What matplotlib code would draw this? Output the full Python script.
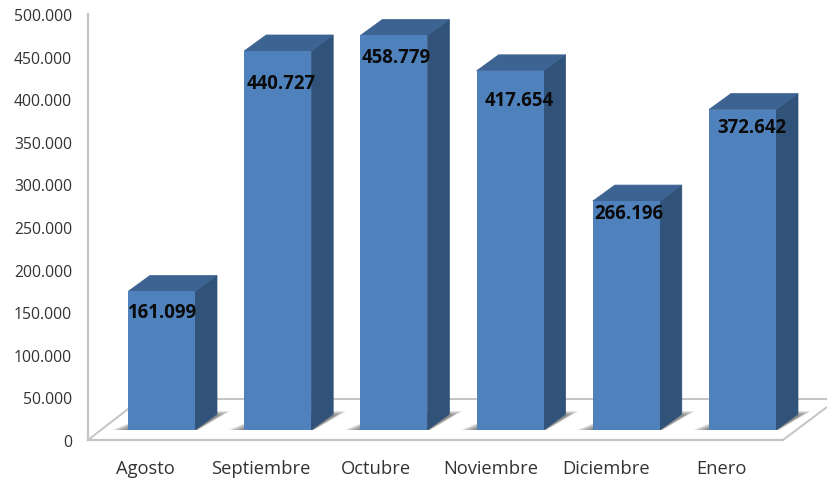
import matplotlib
matplotlib.use('Agg')
import matplotlib.pyplot as plt
from matplotlib.patches import Polygon

months = ['Agosto', 'Septiembre', 'Octubre', 'Noviembre', 'Diciembre', 'Enero']
values = [161099, 440727, 458779, 417654, 266196, 372642]
y_ticks = [0, 50000, 100000, 150000, 200000, 250000, 300000, 350000, 400000, 450000, 500000]
y_tick_labels = ['0', '50.000', '100.000', '150.000', '200.000', '250.000',
                 '300.000', '350.000', '400.000', '450.000', '500.000']

# label nudges in pixels, the original labels are not centred on the bars
label_dx = [1, 3, 2.5, 9, 2.5, 9]
label_drop = [21, 32, 22, 29, 12, 17]

W, H = 827, 481
FRONT = '#4f81bd'
TOP = '#3c6391'
SIDE = '#315279'
GRID = '#c4c4c4'
TEXT = '#333333'

plt.rcParams['font.family'] = 'Open Sans'

fig = plt.figure(figsize=(W / 100, H / 100), dpi=100)

# base axes: value axis, category labels, floor
ax = fig.add_axes([88 / W, (H - 441) / H, (783 - 88) / W, (441 - 15) / H])
ax.set_xlim(-0.494, 5.53)
ax.set_ylim(0, 500000)
ax.set_xticks(range(len(months)))
ax.set_xticklabels(months, fontsize=13.2, color=TEXT)
ax.set_yticks(y_ticks)
ax.set_yticklabels(y_tick_labels, fontsize=11.3, color=TEXT)
ax.tick_params(axis='x', length=0, pad=13.5)
ax.tick_params(axis='y', length=0, pad=11.5)
for s in ['top', 'right']:
    ax.spines[s].set_visible(False)
for s in ['left', 'bottom']:
    ax.spines[s].set_color(GRID)
    ax.spines[s].set_linewidth(1.6)


def axfrac(px, py):
    return (px - 88) / (783 - 88), (441 - py) / (441 - 15)


for pts in [[(88, 441), (128, 410)], [(783, 441), (827, 408)], [(140, 400), (827, 400)]]:
    a = axfrac(*pts[0])
    b = axfrac(*pts[1])
    ax.plot([a[0], b[0]], [a[1], b[1]], transform=ax.transAxes, color=GRID,
            lw=1.4, clip_on=False)

# bar axes: own scale because the bars stand forward of the value axis
bx = fig.add_axes([0, (H - 431) / H, 1, 430 / H])
bx.patch.set_alpha(0)
bx.axis('off')
bx.set_xlim(-161.5 / 116.2, (W - 161.5) / 116.2)
bx.set_ylim(0, 500000)

px_x = 1 / 116.2
px_y = 1000 / 0.86
bar_w = 67 * px_x
dx = 22 * px_x
dy = 16 * px_y

for i, v in enumerate(values):
    l = i - bar_w / 2
    r = i + bar_w / 2
    # soft floor shadow, stacked polygons that shrink towards the bar
    for k in range(10):
        g = (10 - k) / 10
        bx.add_patch(Polygon([(l - 16 * g * px_x, 0),
                              (r + 3 * g * px_x, 0),
                              (r + (22 + 13 * g) * px_x, (14 + 5 * g) * px_y),
                              (l + 30 * px_x, (14 + 5 * g) * px_y)],
                             closed=True, fc='#505050', ec='none', alpha=0.1, zorder=1,
                             clip_on=False))
    bx.add_patch(Polygon([(r, 0), (r + dx, dy), (r + dx, v + dy), (r, v)],
                         closed=True, fc=SIDE, ec=SIDE, lw=0.5, zorder=2))
    bx.add_patch(Polygon([(l, v), (r, v), (r + dx, v + dy), (l + dx, v + dy)],
                         closed=True, fc=TOP, ec=TOP, lw=0.5, zorder=2))
    bx.bar(i, v, width=bar_w, color=FRONT, zorder=3)
    bx.annotate(f'{v:,}'.replace(',', '.'), (i, v),
                xytext=(label_dx[i] * 0.72, -label_drop[i] * 0.72), textcoords='offset points',
                ha='center', va='center', fontsize=13.4, fontweight='bold', color='#0a0a0a',
                zorder=5)

fig.savefig('out.png', dpi=100)
